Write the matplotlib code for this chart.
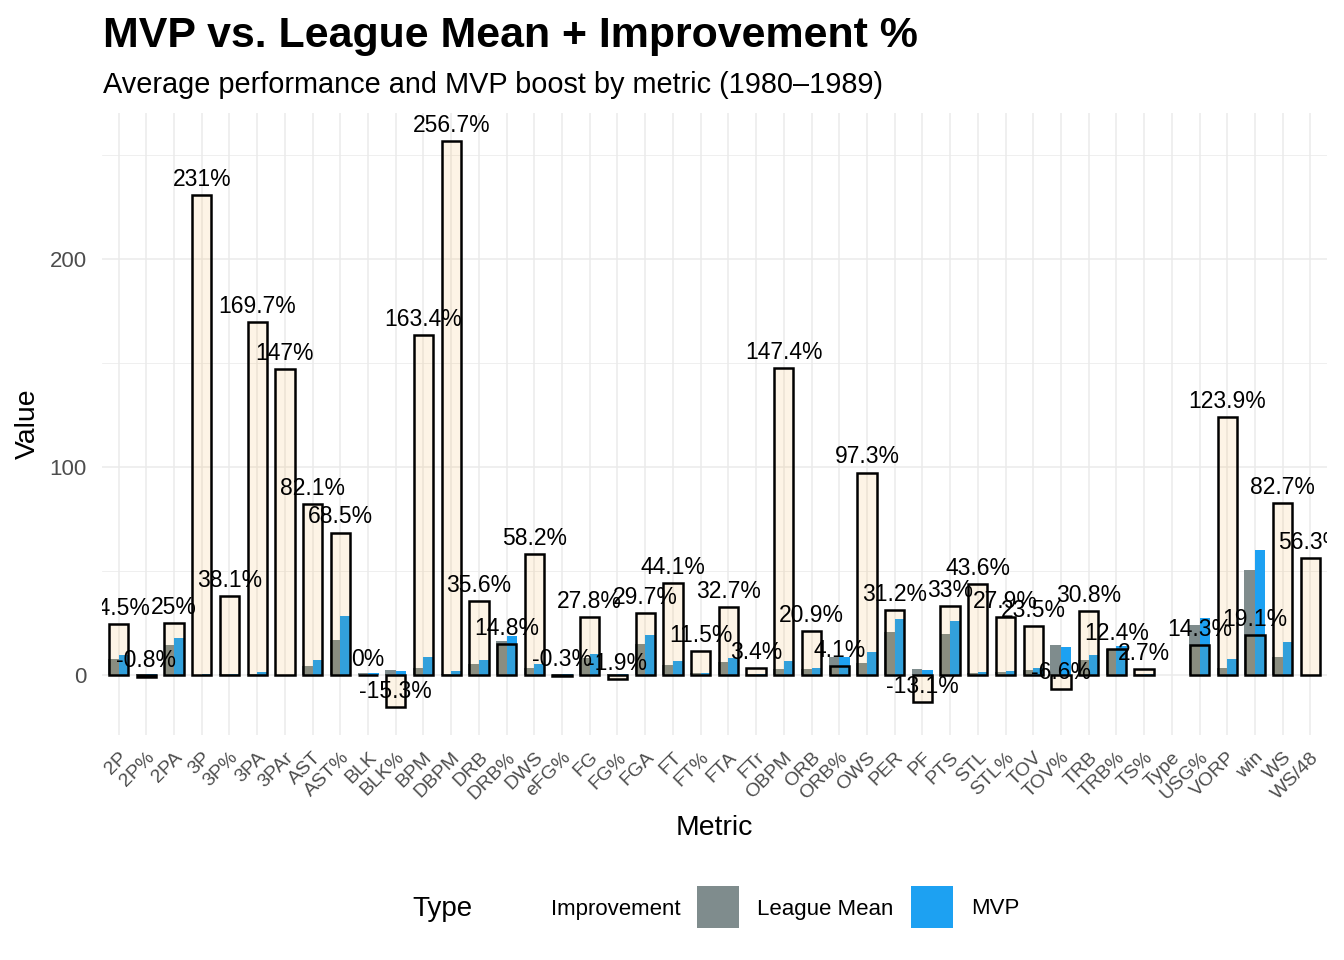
import numpy as np
import matplotlib
matplotlib.use("Agg")
import matplotlib.pyplot as plt
from matplotlib.patches import Rectangle
from matplotlib.transforms import ScaledTranslation

plt.rcParams['font.family'] = ['Liberation Sans', 'DejaVu Sans']

categories = ['2P', '2P%', '2PA', '3P', '3P%', '3PA', '3PAr', 'AST', 'AST%', 'BLK',
              'BLK%', 'BPM', 'DBPM', 'DRB', 'DRB%', 'DWS', 'eFG%', 'FG', 'FG%', 'FGA',
              'FT', 'FT%', 'FTA', 'FTr', 'OBPM', 'ORB', 'ORB%', 'OWS', 'PER', 'PF',
              'PTS', 'STL', 'STL%', 'TOV', 'TOV%', 'TRB', 'TRB%', 'TS%', 'Type', 'USG%',
              'VORP', 'win', 'WS', 'WS/48']

nan = float('nan')
improvement = [24.5, -0.8, 25, 231, 38.1, 169.7, 147, 82.1, 68.5, 0,
               -15.3, 163.4, 256.7, 35.6, 14.8, 58.2, -0.3, 27.8, -1.9, 29.7,
               44.1, 11.5, 32.7, 3.4, 147.4, 20.9, 4.1, 97.3, 31.2, -13.1,
               33, 43.6, 27.9, 23.5, -6.6, 30.8, 12.4, 2.7, nan, 14.3,
               123.9, 19.1, 82.7, 56.3]

league_mean = [7.8, 0.49, 14.4, 0.17, 0.21, 0.6, 0.03, 4.4, 16.8, 0.9,
               2.3, 3.3, 0.5, 5.3, 16.3, 3.4, 0.5, 7.9, 0.49, 14.9,
               4.7, 0.75, 6.2, 0.33, 2.8, 2.8, 8.4, 5.6, 20.5, 2.9,
               19.6, 1.0, 1.5, 2.6, 14.4, 7.2, 12.3, 0.54, nan, 24.1,
               3.4, 50.5, 8.7, 0.09]

mvp = [9.7, 0.486, 18.0, 0.56, 0.29, 1.62, 0.074, 7.4, 28.3, 0.9,
       1.95, 8.7, 1.8, 7.2, 18.7, 5.4, 0.5, 10.1, 0.48, 19.3,
       6.8, 0.836, 8.2, 0.34, 6.9, 3.4, 8.75, 11.0, 26.9, 2.5,
       26.1, 1.44, 1.92, 3.2, 13.45, 9.4, 13.8, 0.555, nan, 27.5,
       7.6, 60.1, 15.9, 0.14]

legend_labels = ['Improvement', 'League Mean', 'MVP']

GREY = '#7f8c8d'
BLUE = '#1da1f2'
IMP_FILL = '#f39c12'

W, H = 1344, 960
fig = plt.figure(figsize=(W / 100, H / 100), dpi=100)


def fx(px):
    return px / W


def fy(py):
    return 1 - py / H


ax = fig.add_axes([fx(102), fy(735), fx(1327) - fx(102), fy(113) - fy(735)])

x = np.arange(len(categories))
imp = np.array(improvement, dtype=float)
lm = np.array(league_mean, dtype=float)
mv = np.array(mvp, dtype=float)

bw = 0.38
ax.bar(x - bw / 2, lm, width=bw, color=GREY, zorder=2, linewidth=0)
ax.bar(x + bw / 2, mv, width=bw, color=BLUE, zorder=2, linewidth=0)
ax.bar(x, imp, width=0.7, facecolor=matplotlib.colors.to_rgba(IMP_FILL, 0.1),
       edgecolor='black', linewidth=1.8, zorder=3)

for xi, v in zip(x, imp):
    if np.isnan(v):
        continue
    ax.annotate(f"{v:g}%", xy=(xi, v), xytext=(0, 3), textcoords='offset points',
                ha='center', va='bottom', fontsize=16.5, color='black',
                annotation_clip=True, clip_on=True, zorder=4)

ax.set_xlim(-0.6, len(categories) - 0.4)
ax.set_ylim(-28.9, 270.3)

ax.set_yticks([0, 100, 200])
ax.set_yticks([50, 150, 250], minor=True)
ax.set_xticks(x)
ax.set_xticklabels(categories, rotation=45, ha='right', va='top',
                   rotation_mode='anchor', fontsize=14, color='#4d4d4d')
shift = ScaledTranslation(10 / 100, 0, fig.dpi_scale_trans)
for lbl in ax.get_xticklabels():
    lbl.set_transform(lbl.get_transform() + shift)
ax.tick_params(axis='x', length=0, pad=10)
ax.tick_params(axis='y', which='both', length=0, pad=11, labelsize=16,
               labelcolor='#4d4d4d')
ax.grid(True, which='major', color='#ebebeb', linewidth=1.1, zorder=0)
ax.grid(True, which='minor', axis='y', color='#ebebeb', linewidth=0.55, zorder=0)
ax.set_axisbelow(True)
for s in ax.spines.values():
    s.set_visible(False)

# titles
fig.text(fx(103), fy(47), 'MVP vs. League Mean + Improvement %', fontsize=30.9,
         fontweight='bold', ha='left', va='baseline')
fig.text(fx(103), fy(93), 'Average performance and MVP boost by metric (1980\u20131989)',
         fontsize=20.8, ha='left', va='baseline')
fig.text(fx(714), fy(835), 'Metric', fontsize=20.4, ha='center', va='baseline')
fig.text(fx(28), fy(424), 'Value', fontsize=20.4, ha='center', va='center',
         rotation=90)

# legend
ly = 909
fig.text(fx(412), fy(ly), 'Type', fontsize=20, ha='left', va='center')
key_colors = [None, GREY, BLUE]
key_x = [497, 697, 911]
lab_x = [551, 757, 971]
for lab, kc, kx, tx in zip(legend_labels, key_colors, key_x, lab_x):
    if kc is not None:
        fig.add_artist(Rectangle((fx(kx), fy(928)), fx(42), 42 / H, color=kc,
                                 transform=fig.transFigure, linewidth=0))
    fig.text(fx(tx), fy(ly), lab, fontsize=16, ha='left', va='center')

fig.savefig('out.png', dpi=100, facecolor='white')
